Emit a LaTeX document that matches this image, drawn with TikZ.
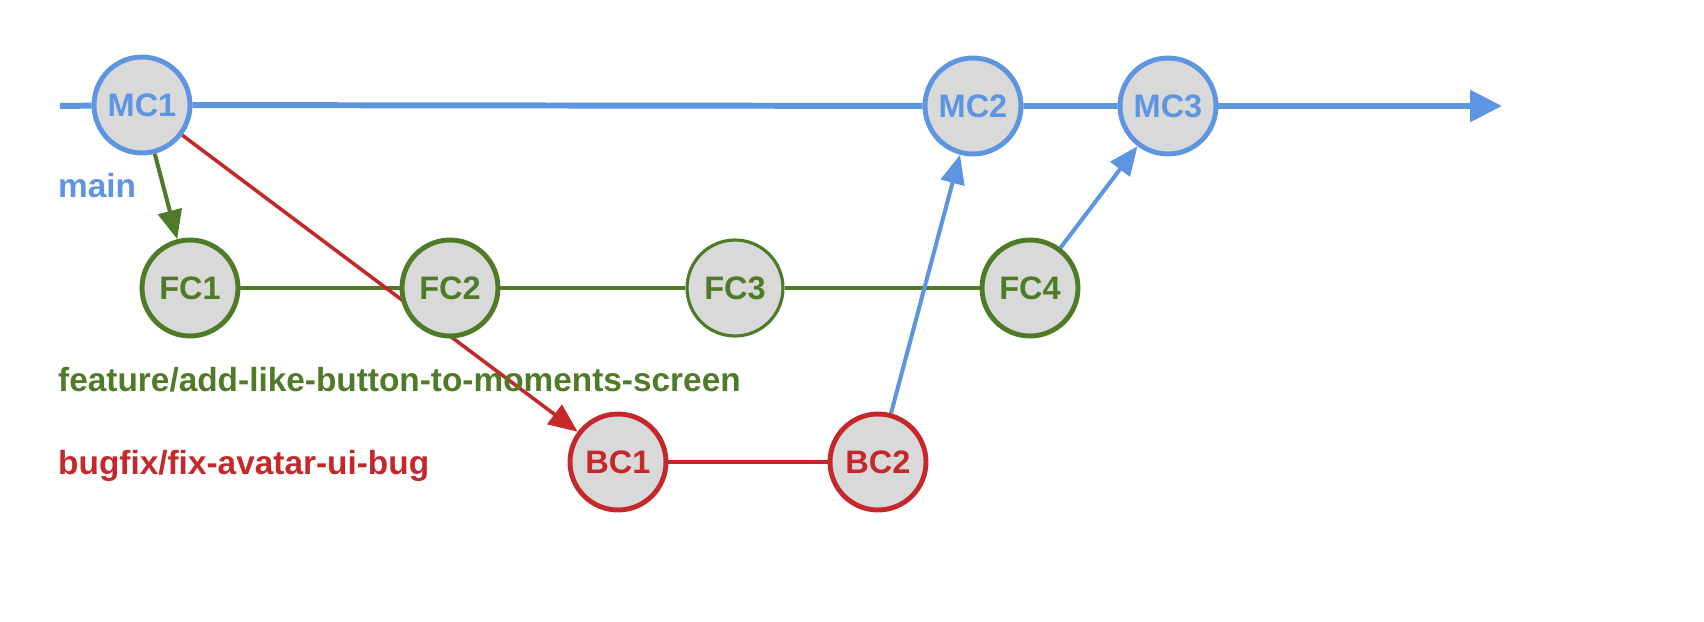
\documentclass[tikz,border=0pt]{standalone}
\usepackage{fontspec}
\setmainfont{Liberation Sans}
\usetikzlibrary{arrows.meta,backgrounds}
\definecolor{mainblue}{RGB}{93,149,224}
\definecolor{featgreen}{RGB}{79,122,40}
\definecolor{fixred}{RGB}{197,40,42}
\definecolor{commitgray}{RGB}{217,217,217}
\tikzset{
  commit/.style={circle,draw=#1,text=#1,fill=commitgray,line width=2.8pt,
    minimum size=1.92cm,inner sep=0pt,font=\fontsize{18.5}{20}\selectfont\bfseries},
  branch/.style={anchor=west,text=#1,font=\fontsize{19}{21}\selectfont\bfseries},
  tip/.style={-{Triangle[length=0.58cm,width=0.48cm]}}
}
\begin{document}
\begin{tikzpicture}[x=0.02cm,y=-0.02cm]
  \useasboundingbox (0,0) rectangle (1704,622);
  % commits on main
  \node[commit=mainblue] at (142,105) (mc1) {MC1};
  \node[commit=mainblue] at (973,106) (mc2) {MC2};
  \node[commit=mainblue] at (1168,106) (mc3) {MC3};
  % feature branch
  \node[commit=featgreen] at (190,288) (fc1) {FC1};
  \node[commit=featgreen] at (450,288) (fc2) {FC2};
  \node[commit=featgreen,line width=1.8pt] at (735,288) (fc3) {FC3};
  \node[commit=featgreen] at (1030,288) (fc4) {FC4};
  % bugfix branch
  \node[commit=fixred] at (618,462) (bc1) {BC1};
  \node[commit=fixred] at (878,462) (bc2) {BC2};
  % branch names
  \node[branch=mainblue] at (52,186) (mainname) {main};
  \node[branch=featgreen] at (52,380) (featname) {feature/add-like-button-to-moments-screen};
  \node[branch=fixred] at (52,466) (fixname) {bugfix/fix-avatar-ui-bug};
  \coordinate (start) at (60,106);
  \coordinate (end) at (1502,106);
  \begin{pgfonlayer}{background}
    \draw[mainblue,line width=3.4pt] (start) -- (mc1) -- (mc2) -- (mc3);
    \draw[mainblue,line width=3.4pt,-{Triangle[length=0.64cm,width=0.62cm]}] (mc3) -- (end);
    \draw[featgreen,line width=2.8pt] (fc1) -- (fc2) -- (fc3) -- (fc4);
    \draw[fixred,line width=2.8pt] (bc1) -- (bc2);
    \draw[featgreen,line width=2.3pt,tip] (mc1) -- (fc1);
    \draw[fixred,line width=2pt,tip] (mc1) -- (bc1);
    \draw[mainblue,line width=2.3pt,tip] (bc2) -- (mc2);
    \draw[mainblue,line width=2.3pt,tip] (fc4) -- (mc3);
  \end{pgfonlayer}
\end{tikzpicture}
\end{document}
